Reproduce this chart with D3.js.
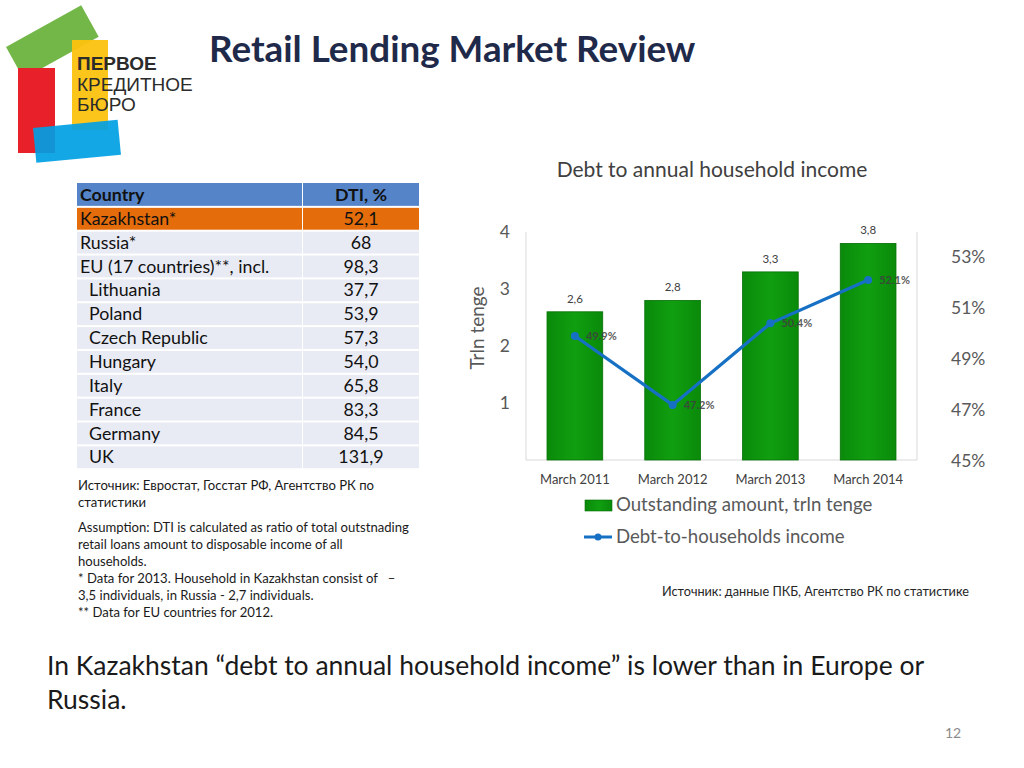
<!DOCTYPE html>
<html><head><meta charset="utf-8">
<script src="https://cdn.jsdelivr.net/npm/d3@7"></script>
<style>body{margin:0;background:#fff}svg{display:block}text{white-space:pre}</style>
</head><body>
<svg id="c" width="1024" height="768"></svg>
<script>
// ---- data ----
const categories = ["March 2011", "March 2012", "March 2013", "March 2014"];
const outstanding = [2.6, 2.8, 3.3, 3.8];
const outstandingLabels = ["2,6", "2,8", "3,3", "3,8"];
const dtiHousehold = [49.9, 47.2, 50.4, 52.1];
const leftTicks = [1, 2, 3, 4];
const rightTicks = [45, 47, 49, 51, 53];
const tableCountries = ["Kazakhstan*", "Russia*", "EU (17 countries)**, incl.", "Lithuania", "Poland", "Czech Republic", "Hungary", "Italy", "France", "Germany", "UK"];
const tableIndented = [false, false, false, true, true, true, true, true, true, true, true];
const tableDTI = ["52,1", "68", "98,3", "37,7", "53,9", "57,3", "54,0", "65,8", "83,3", "84,5", "131,9"];
const notes = ["Источник: Евростат, Госстат РФ, Агентство РК по", "статистики"];
const notes2 = ["Assumption: DTI is calculated as ratio of total outstnading", "retail loans amount to disposable income of all", "households.", "* Data for 2013. Household in Kazakhstan consist of   –", "3,5 individuals, in Russia - 2,7 individuals.", "** Data for EU countries for 2012."];

const svg = d3.select("#c");
const F = "Lato, 'Open Sans', sans-serif";

// ---- logo ----
const logo = svg.append("g");
logo.append("rect").attr("x", 0).attr("y", 0).attr("width", 86).attr("height", 36)
  .attr("transform", "translate(6,47) rotate(-29)").attr("fill", "#6cb33f").attr("opacity", 0.95);
logo.append("rect").attr("x", 18).attr("y", 68).attr("width", 37).attr("height", 85).attr("fill", "#e8202a");
logo.append("rect").attr("x", 72).attr("y", 40).attr("width", 36).attr("height", 90).attr("fill", "#fcc20f").attr("opacity", 0.95);
logo.append("rect").attr("x", 0).attr("y", 0).attr("width", 85).attr("height", 35)
  .attr("transform", "translate(33,128) rotate(-5.5)").attr("fill", "#00a0e4").attr("opacity", 0.92);
const lt = logo.append("g").attr("font-family", "'Liberation Sans', Arial, sans-serif").attr("fill", "#2b2b2b").attr("font-size", 19);
lt.append("text").attr("x", 77).attr("y", 70).attr("font-weight", "bold").text("ПЕРВОЕ");
lt.append("text").attr("x", 77).attr("y", 91).text("КРЕДИТНОЕ");
lt.append("text").attr("x", 77).attr("y", 111).text("БЮРО");

// ---- title ----
svg.append("text").attr("x", 209).attr("y", 62).attr("font-family", F).attr("font-weight", "bold")
  .attr("font-size", 36.8).attr("fill", "#1f2a4a").text("Retail Lending Market Review");

// ---- table ----
const tX0 = 77, tX1 = 303, tX2 = 419, rowH = 23.85, tY = 183;
const tb = svg.append("g").attr("font-family", F).attr("font-size", 17.8);
tb.append("rect").attr("x", tX0).attr("y", tY).attr("width", tX1 - tX0 - 1).attr("height", rowH - 1).attr("fill", "#5585c8");
tb.append("rect").attr("x", tX1).attr("y", tY).attr("width", tX2 - tX1).attr("height", rowH - 1).attr("fill", "#5585c8");
tb.append("text").attr("x", 80).attr("y", tY + 18).attr("font-weight", "bold").attr("fill", "#111").text("Country");
tb.append("text").attr("x", 361).attr("y", tY + 18).attr("font-weight", "bold").attr("fill", "#111").attr("text-anchor", "middle").text("DTI, %");
tableCountries.forEach((c, i) => {
  const y = tY + (i + 1) * rowH;
  const fill = i === 0 ? "#e46c0a" : "#e9ebf4";
  tb.append("rect").attr("x", tX0).attr("y", y + 1).attr("width", tX1 - tX0 - 1).attr("height", rowH - 2).attr("fill", fill);
  tb.append("rect").attr("x", tX1).attr("y", y + 1).attr("width", tX2 - tX1).attr("height", rowH - 2).attr("fill", fill);
  tb.append("text").attr("x", tableIndented[i] ? 89 : 80).attr("y", y + 18).attr("fill", "#111").text(c);
  tb.append("text").attr("x", 361).attr("y", y + 18).attr("fill", "#111").attr("text-anchor", "middle").text(tableDTI[i]);
});

// ---- notes ----
const nt = svg.append("g").attr("font-family", F).attr("font-size", 13.1).attr("fill", "#1a1a1a");
notes.forEach((t, i) => nt.append("text").attr("x", 78).attr("y", 490 + i * 17).text(t));
notes2.forEach((t, i) => nt.append("text").attr("x", 78).attr("y", 532 + i * 17).text(t));

// ---- chart ----
const px0 = 526, px1 = 917, py0 = 460, pyTop = 232;
const x = d3.scaleBand().domain(categories).range([px0, px1]).paddingInner(0.43).paddingOuter(0.215);
const yL = d3.scaleLinear().domain([0, 4]).range([py0, pyTop]);
const yR = d3.scaleLinear().domain([45, 54]).range([461, 231.5]);

svg.append("text").attr("x", 712).attr("y", 177).attr("text-anchor", "middle").attr("font-family", F)
  .attr("font-size", 21).attr("fill", "#404040").text("Debt to annual household income");

const defs = svg.append("defs");
const g = defs.append("linearGradient").attr("id", "bg").attr("x1", "0").attr("x2", "1").attr("y1", "0").attr("y2", "0");
g.append("stop").attr("offset", "0").attr("stop-color", "#0a8a0a");
g.append("stop").attr("offset", "0.5").attr("stop-color", "#109f10");
g.append("stop").attr("offset", "1").attr("stop-color", "#0a8a0a");

// frame
svg.append("path").attr("d", `M${px0},${pyTop}V${py0}H${px1}V${pyTop}`).attr("fill", "none").attr("stroke", "#d9d9d9").attr("stroke-width", 1);

// bars
svg.append("g").selectAll("rect").data(outstanding).join("rect")
  .attr("x", (d, i) => x(categories[i])).attr("width", x.bandwidth())
  .attr("y", d => yL(d)).attr("height", d => py0 - yL(d))
  .attr("fill", "url(#bg)").attr("stroke", "#067006").attr("stroke-width", 0.8);
svg.append("g").selectAll("text").data(outstanding).join("text")
  .attr("x", (d, i) => x(categories[i]) + x.bandwidth() / 2).attr("y", d => yL(d) - 9)
  .attr("text-anchor", "middle").attr("font-family", F).attr("font-size", 11.5).attr("fill", "#404040")
  .text((d, i) => outstandingLabels[i]);

// left axis
const axL = svg.append("g").attr("transform", `translate(${px0 - 14},0)`)
  .call(d3.axisLeft(yL).tickValues(leftTicks).tickSize(0).tickFormat(d3.format("d")));
axL.select(".domain").remove();
axL.selectAll("text").attr("font-family", F).attr("font-size", 17.5).attr("fill", "#595959").attr("dy", "0.32em").attr("x", -2);
svg.append("text").attr("transform", "translate(484,328) rotate(-90)").attr("text-anchor", "middle")
  .attr("font-family", F).attr("font-size", 19).attr("fill", "#595959").text("Trln tenge");

// right axis
const axR = svg.append("g").attr("transform", `translate(${px1 + 34},0)`)
  .call(d3.axisRight(yR).tickValues(rightTicks).tickSize(0).tickFormat(d => d + "%"));
axR.select(".domain").remove();
axR.selectAll("text").attr("font-family", F).attr("font-size", 17.5).attr("fill", "#595959").attr("x", 0);

// x axis labels
const axX = svg.append("g").attr("transform", `translate(0,${py0 + 12})`)
  .call(d3.axisBottom(x).tickSize(0));
axX.select(".domain").remove();
axX.selectAll("text").attr("font-family", F).attr("font-size", 13).attr("fill", "#404040");

// line
const cx = (d, i) => x(categories[i]) + x.bandwidth() / 2;
svg.append("path").datum(dtiHousehold)
  .attr("d", d3.line().x(cx).y(d => yR(d)))
  .attr("fill", "none").attr("stroke", "#1670c4").attr("stroke-width", 3.2);
svg.append("g").selectAll("circle").data(dtiHousehold).join("circle")
  .attr("cx", cx).attr("cy", d => yR(d)).attr("r", 4).attr("fill", "#1670c4");
svg.append("g").selectAll("text").data(dtiHousehold).join("text")
  .attr("x", (d, i) => cx(d, i) + 11).attr("y", d => yR(d) + 4)
  .attr("font-family", F).attr("font-size", 11).attr("font-weight", "bold").attr("fill", "#404040").attr("opacity", 0.85)
  .text(d => d.toFixed(1) + "%");

// legend
const lg = svg.append("g").attr("font-family", F).attr("font-size", 18.6).attr("fill", "#595959");
lg.append("rect").attr("x", 585).attr("y", 500).attr("width", 27).attr("height", 11).attr("fill", "url(#bg)").attr("stroke", "#067006").attr("stroke-width", 0.6);
lg.append("text").attr("x", 616).attr("y", 511).text("Outstanding amount, trln tenge");
lg.append("line").attr("x1", 584).attr("x2", 612).attr("y1", 537).attr("y2", 537).attr("stroke", "#1670c4").attr("stroke-width", 3);
lg.append("circle").attr("cx", 598).attr("cy", 537).attr("r", 3.5).attr("fill", "#1670c4");
lg.append("text").attr("x", 616).attr("y", 543).text("Debt-to-households income");

svg.append("text").attr("x", 662).attr("y", 596).attr("font-family", F).attr("font-size", 12.7).attr("fill", "#262626")
  .text("Источник: данные ПКБ, Агентство РК по статистике");

// bottom text
const bt = svg.append("g").attr("font-family", F).attr("font-size", 26.5).attr("fill", "#1a1a1a");
bt.append("text").attr("x", 47).attr("y", 675).text("In Kazakhstan “debt to annual household income” is lower than in Europe or");
bt.append("text").attr("x", 47).attr("y", 709).text("Russia.");
svg.append("text").attr("x", 953).attr("y", 738).attr("text-anchor", "middle").attr("font-family", F).attr("font-size", 14).attr("fill", "#8c8c8c").text("12");
</script>
</body></html>
